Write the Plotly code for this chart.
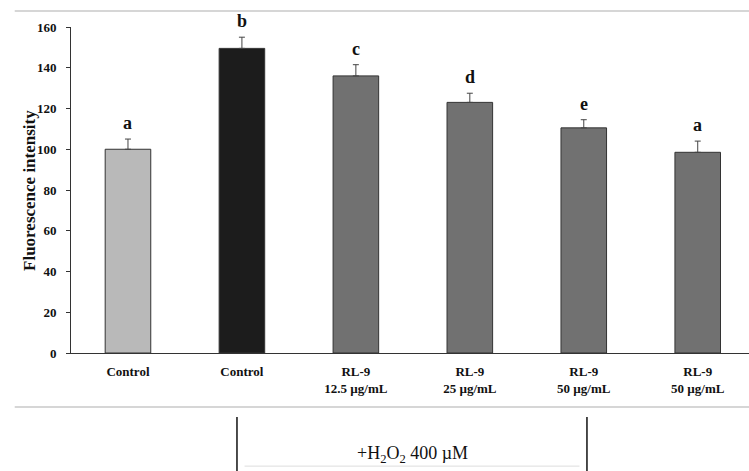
import plotly.graph_objects as go

categories = ["Control", "Control", "RL-9<br>12.5 µg/mL", "RL-9<br>25 µg/mL", "RL-9<br>50 µg/mL", "RL-9<br>50 µg/mL"]
values = [100, 149.5, 136, 123, 110.5, 98.5]
errors = [5, 5.5, 5.5, 4.5, 4, 5.5]
letters = ["a", "b", "c", "d", "e", "a"]
colors = ["#b9b9b9", "#1c1c1c", "#717171", "#717171", "#717171", "#717171"]
y_ticks = [0, 20, 40, 60, 80, 100, 120, 140, 160]

xs = list(range(len(categories)))
serif = "Liberation Serif"

fig = go.Figure()
fig.add_trace(go.Bar(
    x=xs, y=values, width=0.40,
    marker=dict(color=colors, line=dict(color="#333333", width=1)),
    error_y=dict(type="data", symmetric=False, array=errors, arrayminus=[0]*len(errors),
                 color="#444444", thickness=1, width=3),
    showlegend=False,
))

for x, v, e, t in zip(xs, values, errors, letters):
    fig.add_annotation(x=x, y=v + e, text=t, showarrow=False, yanchor="bottom", yshift=4,
                       font=dict(family=serif, size=18, color="#111111", weight="bold"))

fig.update_layout(
    width=749, height=471,
    margin=dict(l=71, r=0, t=27, b=118),
    plot_bgcolor="white", paper_bgcolor="white",
    xaxis=dict(range=[-0.5, 5.45], tickvals=xs, ticktext=categories, showline=True,
               linecolor="#333333", linewidth=1, ticks="", showgrid=False, zeroline=False,
               ticklabelstandoff=6,
               tickfont=dict(family=serif, size=13, color="#111111", weight="bold")),
    yaxis=dict(range=[0, 160], tickvals=y_ticks, showline=True, linecolor="#333333", linewidth=1,
               ticks="outside", ticklen=4, tickcolor="#333333", showgrid=False, zeroline=False,
               ticklabelstandoff=7,
               tickfont=dict(family=serif, size=13, color="#111111", weight="bold")),
)

# y-axis title placed close to tick labels as in the reference
fig.add_annotation(xref="paper", yref="paper", x=-0.062, y=0.5, xanchor="center", yanchor="middle",
                   text="Fluorescence intensity", textangle=-90, showarrow=False,
                   font=dict(family=serif, size=17, color="#111111", weight="bold"))

# decorative frame lines
fig.add_shape(type="line", xref="paper", yref="paper", x0=-0.083, x1=1, y0=1.049, y1=1.049,
              line=dict(color="#c8c8c8", width=1.5))
fig.add_shape(type="line", xref="paper", yref="paper", x0=-0.083, x1=1, y0=-0.166, y1=-0.166,
              line=dict(color="#c8c8c8", width=1.5))
fig.add_shape(type="line", xref="paper", yref="paper", x0=0.2448, x1=0.2448, y0=-0.196, y1=-0.37,
              line=dict(color="#111111", width=1.5))
fig.add_shape(type="line", xref="paper", yref="paper", x0=0.761, x1=0.761, y0=-0.196, y1=-0.37,
              line=dict(color="#111111", width=1.5))
fig.add_shape(type="line", xref="paper", yref="paper", x0=0.256, x1=0.75, y0=-0.347, y1=-0.347,
              line=dict(color="#dddddd", width=1))
fig.add_annotation(xref="paper", yref="paper", x=0.503, y=-0.312, yanchor="middle",
                   text="+H<sub>2</sub>O<sub>2</sub> 400 µM",
                   showarrow=False, font=dict(family=serif, size=18, color="#111111"))

fig.write_html("out.html")
